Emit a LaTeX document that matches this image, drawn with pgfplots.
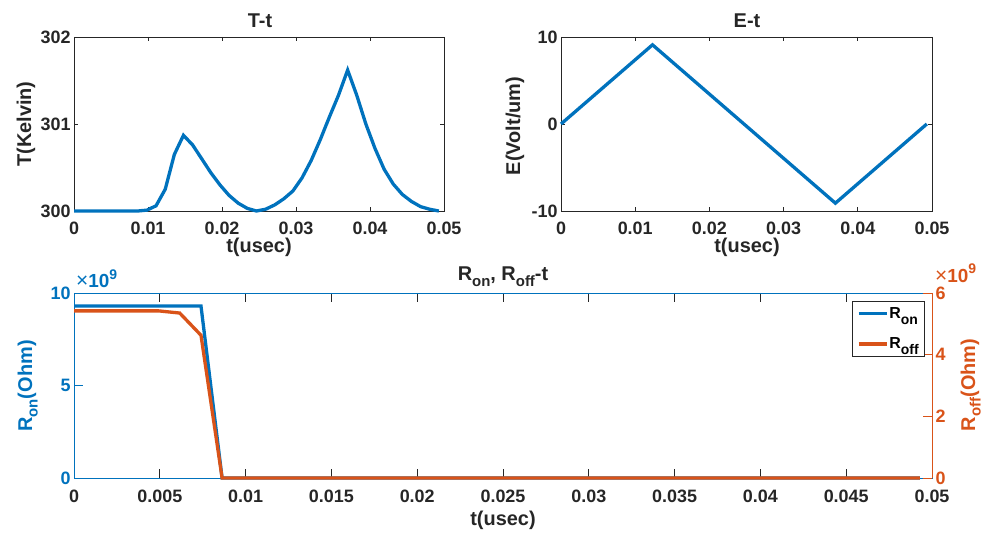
\documentclass[border=0pt]{standalone}
\usepackage{fontspec}
\setmainfont{Liberation Sans}
\usepackage{pgfplots}
\pgfplotsset{compat=1.18}

\definecolor{mblue}{RGB}{0,114,189}
\definecolor{morange}{RGB}{217,83,25}
\definecolor{mgray}{RGB}{38,38,38}
\newcommand\tickfont{\fontsize{18}{20}\selectfont\bfseries}
\newcommand\labfont{\fontsize{20}{24}\selectfont\bfseries}
\newcommand\legfont{\fontsize{16}{18}\selectfont\bfseries}
% big MATLAB-like subscripts
\newcommand\sub[1]{\raisebox{-5.5bp}{\fontsize{15}{16}\selectfont #1}}
\newcommand\lsub[1]{\raisebox{-6bp}{\fontsize{14}{14}\selectfont #1}}
\newcommand\expo{{\fontsize{21}{21}\selectfont\mdseries ×}{\fontsize{19}{20}\selectfont 10}\raisebox{8.5bp}{\fontsize{14}{14}\selectfont 9}}

\pgfplotsset{
  mbase/.style={
    scale only axis, clip=false,
    axis line style={mgray,line width=0.8bp},
    tick style={mgray,line width=0.8bp},
    tick align=inside,
    xtick pos=both, ytick pos=both,
    ticklabel style={font=\tickfont,text=mgray},
    xticklabel style={anchor=base,yshift=-24bp},
    scaled ticks=false,
  },
}

\begin{document}
\begin{tikzpicture}
\path[use as bounding box] (0bp,0bp) rectangle (986bp,534bp);

% T-t
\begin{axis}[mbase,
  at={(74bp,323bp)},anchor=south west,width=370bp,height=174bp,
  xmin=0,xmax=0.05,ymin=300,ymax=302,
  xtick={0,0.01,0.02,0.03,0.04,0.05},
  xticklabels={0,0.01,0.02,0.03,0.04,0.05},
  ytick={300,301,302},yticklabels={300,301,302},
  major tick length=4bp]
\addplot[mblue,line width=3.3bp] table {
0       300.00
0.00123 300.00
0.00247 300.00
0.00370 300.00
0.00493 300.00
0.00616 300.00
0.00740 300.00
0.00863 300.00
0.00986 300.01
0.01109 300.06
0.01233 300.25
0.01356 300.65
0.01479 300.87
0.01602 300.76
0.01726 300.60
0.01849 300.44
0.01972 300.30
0.02095 300.18
0.02219 300.09
0.02342 300.03
0.02465 300.00
0.02588 300.02
0.02712 300.07
0.02835 300.14
0.02958 300.23
0.03081 300.38
0.03205 300.58
0.03328 300.82
0.03451 301.08
0.03574 301.33
0.03698 301.62
0.03821 301.33
0.03944 301.00
0.04067 300.72
0.04191 300.48
0.04314 300.31
0.04437 300.19
0.04560 300.11
0.04684 300.05
0.04807 300.02
0.04930 300.00
};
\end{axis}

% E-t
\begin{axis}[mbase,
  at={(561bp,323bp)},anchor=south west,width=371bp,height=174bp,
  xmin=0,xmax=0.05,ymin=-10,ymax=10,
  xtick={0,0.01,0.02,0.03,0.04,0.05},
  xticklabels={0,0.01,0.02,0.03,0.04,0.05},
  ytick={-10,0,10},yticklabels={-10,0,10},
  major tick length=4bp]
\addplot[mblue,line width=3.3bp] table {
0       0
0.01233 9.1
0.03698 -9.1
0.04930 0
};
\end{axis}

% R-t, left axis
\begin{axis}[mbase,
  at={(74bp,56bp)},anchor=south west,width=858bp,height=185bp,
  xmin=0,xmax=0.05,ymin=0,ymax=10,
  xtick={0,0.005,0.01,0.015,0.02,0.025,0.03,0.035,0.04,0.045,0.05},
  xticklabels={0,0.005,0.01,0.015,0.02,0.025,0.03,0.035,0.04,0.045,0.05},
  xticklabel style={yshift=-1bp},
  ytick pos=left,
  ytick={0,5,10},yticklabels={0,5,10},
  y axis line style={mblue,line width=0.6bp},
  ytick style={mblue},
  yticklabel style={text=mblue},
  major tick length=9bp]
\addplot[mblue,line width=3.3bp] table {
0       9.30
0.00123 9.30
0.00247 9.30
0.00370 9.30
0.00493 9.30
0.00616 9.30
0.00740 9.30
0.00863 0
0.04930 0
};
\end{axis}

% R-t, right axis
\begin{axis}[
  scale only axis, clip=false,
  at={(74bp,56bp)},anchor=south west,width=858bp,height=185bp,
  xmin=0,xmax=0.05,ymin=0,ymax=6,
  axis x line=none, axis y line*=right,
  y axis line style={morange,line width=0.8bp,-},
  tick align=inside,
  ytick={0,2,4,6},yticklabels={0,2,4,6},
  ytick style={morange,line width=0.8bp},
  yticklabel style={font=\tickfont,text=morange},
  major tick length=9bp,
  legend style={at={(1,1)},anchor=north east,xshift=-7bp,yshift=-8bp,
    draw=mgray,line width=0.6bp,font=\legfont,inner sep=5bp,row sep=16bp,
    nodes={inner sep=1bp}},
  legend cell align=left,
  legend image code/.code={\draw[#1] (0bp,0bp) -- (28bp,0bp);}]
\addlegendimage{mblue,line width=3.3bp}
\addlegendentry{R\lsub{on}}
\addplot[morange,line width=3.3bp] table {
0       5.42
0.00123 5.42
0.00247 5.42
0.00370 5.42
0.00493 5.42
0.00616 5.35
0.00740 4.63
0.00863 0
0.04930 0
};
\addlegendentry{R\lsub{off}}
\end{axis}

% titles and labels
\node[font=\labfont,text=mgray,anchor=base] at (260bp,506bp) {T-t};
\node[font=\labfont,text=mgray,anchor=base] at (747bp,506bp) {E-t};
\node[font=\labfont,text=mgray,anchor=base] at (503bp,253bp)
  {R\sub{on}, R\sub{off}-t};
\node[font=\labfont,text=mgray,anchor=base] at (259bp,281bp) {t(usec)};
\node[font=\labfont,text=mgray,anchor=base] at (747bp,281bp) {t(usec)};
\node[font=\labfont,text=mgray,anchor=base] at (503bp,9bp) {t(usec)};
\node[font=\labfont,text=mgray,anchor=base,rotate=90] at (31bp,410bp) {T(Kelvin)};
\node[font=\labfont,text=mgray,anchor=base,rotate=90] at (520bp,408bp) {E(Volt/um)};
\node[font=\labfont,text=mblue,anchor=base,rotate=90] at (32bp,148bp) {R\sub{on}(Ohm)};
\node[font=\labfont,text=morange,anchor=base,rotate=90] at (975bp,149bp) {R\sub{off}(Ohm)};
\node[font=\bfseries,text=mblue,anchor=base west,inner sep=0pt] at (76bp,246bp) {\expo};
\node[font=\bfseries,text=morange,anchor=base west,inner sep=0pt] at (935bp,251.5bp) {\expo};
\end{tikzpicture}
\end{document}
